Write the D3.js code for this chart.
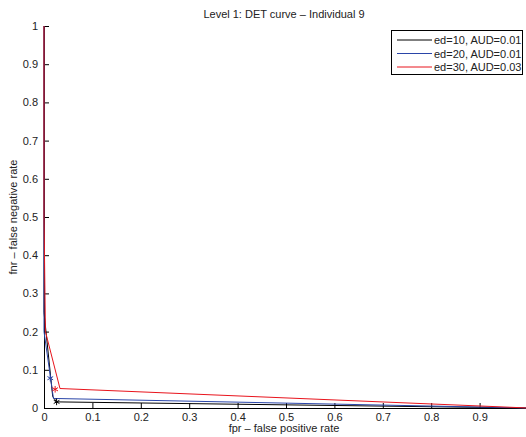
<!DOCTYPE html>
<html><head><meta charset="utf-8">
<script src="https://cdn.jsdelivr.net/npm/d3@7"></script>
<style>
body{margin:0;background:#fff;}
svg{display:block;font-family:"Liberation Sans",Arial,Helvetica,sans-serif;}
</style></head>
<body><svg id="c" width="526" height="437"></svg>
<script>
const title = "Level 1: DET curve – Individual 9";
const xLabel = "fpr – false positive rate";
const yLabel = "fnr – false negative rate";
const xTicks = [0,0.1,0.2,0.3,0.4,0.5,0.6,0.7,0.8,0.9];
const yTicks = [0,0.1,0.2,0.3,0.4,0.5,0.6,0.7,0.8,0.9,1];
const seriesNames = ["ed=10, AUD=0.01","ed=20, AUD=0.01","ed=30, AUD=0.03"];
const seriesColors = ["#000000","#2a45a8","#e8141c"];
// DET curve points [fpr, fnr]
const ed10 = [[0,1],[0,0.25],[0.018,0.03],[0.026,0.016],[1,0]];
const ed20 = [[0,1],[0,0.2],[0.0195,0.025],[1,0]];
const ed30 = [[0,1],[0,0.5],[0.003,0.2],[0.033,0.051],[1,0]];
// operating point markers [fpr, fnr]
const mark10 = [0.026,0.016];
const mark20 = [0.013,0.078];
const mark30 = [0.023,0.049];

const series = [ed10, ed20, ed30];
const marks = [mark10, mark20, mark30];

const svg = d3.select("#c");
const x = d3.scaleLinear().domain([0,1]).range([44,528]);
const y = d3.scaleLinear().domain([0,1]).range([408,26]);

const fmt = d => d===0?"0":(d===1?"1":d3.format(".1f")(d));

const gx = svg.append("g").attr("transform","translate(0,408)")
  .call(d3.axisBottom(x).tickValues(xTicks).tickFormat(fmt).tickSizeInner(-5).tickSizeOuter(0).tickPadding(5));
const gy = svg.append("g").attr("transform","translate(44,0)")
  .call(d3.axisLeft(y).tickValues(yTicks).tickFormat(fmt).tickSizeInner(-5).tickSizeOuter(0).tickPadding(6));
[gx,gy].forEach(g=>{
  g.selectAll("text").attr("font-size",11).attr("fill","#222");
  g.selectAll("line,path").attr("stroke","#000");
  g.attr("font-family",null);
});

const line = d3.line().x(d=>x(d[0])).y(d=>y(d[1]));
series.forEach((s,i)=>{
  svg.append("path").datum(s).attr("d",line).attr("fill","none")
    .attr("stroke",seriesColors[i]).attr("stroke-width",1);
});
const sym = d3.symbol().type(d3.symbolAsterisk).size(30);
marks.forEach((m,i)=>{
  svg.append("path").attr("d",sym()).attr("transform",`translate(${x(m[0])},${y(m[1])})`)
    .attr("fill","none").attr("stroke",seriesColors[i]).attr("stroke-width",1);
});

svg.append("text").attr("x",284).attr("y",18).attr("text-anchor","middle")
  .attr("font-size",11).attr("fill","#222").text(title);
svg.append("text").attr("x",284).attr("y",432).attr("text-anchor","middle")
  .attr("font-size",11).attr("fill","#222").text(xLabel);
svg.append("text").attr("transform","translate(17,217) rotate(-90)").attr("text-anchor","middle")
  .attr("font-size",11).attr("fill","#222").text(yLabel);

// legend
const lg = svg.append("g");
lg.append("rect").attr("x",391.5).attr("y",30.5).attr("width",131).attr("height",44)
  .attr("fill","#fff").attr("stroke","#000").attr("stroke-width",1);
seriesNames.forEach((n,i)=>{
  const yy = 40 + i*13.5;
  lg.append("line").attr("x1",397).attr("x2",432).attr("y1",yy).attr("y2",yy)
    .attr("stroke",seriesColors[i]).attr("stroke-width",1);
  lg.append("text").attr("x",434).attr("y",yy+4).attr("font-size",11).attr("fill","#222").text(n);
});
</script></body></html>
